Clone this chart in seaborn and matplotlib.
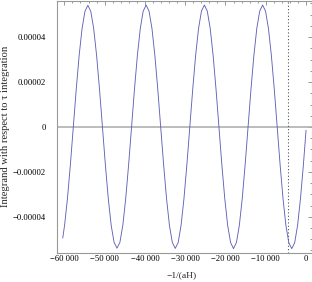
import numpy as np
import pandas as pd
import matplotlib
matplotlib.use("Agg")
import matplotlib.pyplot as plt
from matplotlib.ticker import MultipleLocator
import seaborn as sns

# -1/(aH) values
minus_inv_aH = [
    -60400, -59944, -59221, -58498, -57775, -57052, -56329, -55606, -54883, -54160,
    -53437, -52714, -51991, -51268, -50545, -49822, -49099, -48376, -47653, -46930,
    -46207, -45484, -44761, -44038, -43315, -42592, -41869, -41146, -40423, -39700,
    -38977, -38254, -37531, -36808, -36085, -35362, -34639, -33916, -33193, -32470,
    -31747, -31024, -30301, -29578, -28855, -28132, -27409, -26686, -25963, -25240,
    -24517, -23794, -23071, -22348, -21625, -20902, -20179, -19456, -18733, -18010,
    -17287, -16564, -15841, -15118, -14395, -13672, -12949, -12226, -11503, -10780,
    -10057, -9334, -8611, -7888, -7165, -6442, -5719, -4996, -4273, -3550,
    -2827, -2104, -1381, -658, 0,
]
# integrand, in units of 1e-5
integrand_e5 = [
    -4.95, -4.38, -3.18, -1.67, 0.00, 1.67, 3.18, 4.38, 5.15, 5.42,
    5.15, 4.38, 3.18, 1.67, 0.00, -1.67, -3.18, -4.38, -5.14, -5.40,
    -5.14, -4.38, -3.18, -1.67, 0.00, 1.68, 3.19, 4.39, 5.16, 5.43,
    5.16, 4.39, 3.19, 1.68, 0.00, -1.67, -3.18, -4.38, -5.15, -5.41,
    -5.15, -4.38, -3.18, -1.67, 0.00, 1.68, 3.19, 4.39, 5.16, 5.43,
    5.16, 4.39, 3.19, 1.68, 0.00, -1.68, -3.19, -4.39, -5.15, -5.42,
    -5.15, -4.39, -3.19, -1.68, 0.00, 1.68, 3.19, 4.39, 5.16, 5.43,
    5.16, 4.39, 3.19, 1.68, 0.00, -1.68, -3.19, -4.39, -5.16, -5.42,
    -5.16, -4.39, -3.19, -1.68, -0.15,
]
marker_x = -4600

x_ticks = [-60000, -50000, -40000, -30000, -20000, -10000, 0]
x_labels = ["\u221260 000", "\u221250 000", "\u221240 000", "\u221230 000",
            "\u221220 000", "\u221210 000", "0"]
y_ticks = [-0.00004, -0.00002, 0, 0.00002, 0.00004]
y_labels = ["\u22120.00004", "\u22120.00002", "0", "0.00002", "0.00004"]

df = pd.DataFrame({"x": minus_inv_aH, "y": np.array(integrand_e5) * 1e-5})

sns.set_theme(style="white")
plt.rcParams["font.family"] = ["Liberation Serif", "DejaVu Serif"]

fig = plt.figure(figsize=(3.12, 2.82), dpi=100)
ax = fig.add_axes([0.183, 0.104, 0.816, 0.894])

ax.axhline(0, color="#b0b0b0", lw=1.2, zorder=1)
ax.axvline(marker_x, color="#555555", lw=0.8, ls=(0, (1, 2)), zorder=1)
sns.lineplot(data=df, x="x", y="y", sort=False, estimator=None,
             color="#6262b8", lw=0.65, ax=ax, zorder=2)

ax.set_xlim(-61800, 1400)
ax.set_ylim(-0.0000560, 0.0000563)

ax.set_xticks(x_ticks)
ax.set_xticklabels(x_labels)
ax.set_yticks(y_ticks)
ax.set_yticklabels(y_labels)
ax.xaxis.set_minor_locator(MultipleLocator(2000))
ax.yaxis.set_minor_locator(MultipleLocator(0.000005))

ax.tick_params(which="both", direction="in", top=True, right=True,
               colors="#888888", labelcolor="black", labelsize=6.2, width=0.6)
ax.tick_params(which="major", length=3)
ax.tick_params(which="minor", length=1.6)
ax.tick_params(axis="x", pad=2)
ax.tick_params(axis="y", pad=8)

for s in ax.spines.values():
    s.set_color("#999999")
    s.set_linewidth(0.8)

ax.set_xlabel("\u22121/(aH)", fontsize=6.8)
ax.xaxis.set_label_coords(0.49, -0.072)
ax.set_ylabel("Integrand with respect to \u03c4 integration", fontsize=7.6)
ax.yaxis.set_label_coords(-0.185, 0.5)

fig.savefig("out.png", dpi=100)
